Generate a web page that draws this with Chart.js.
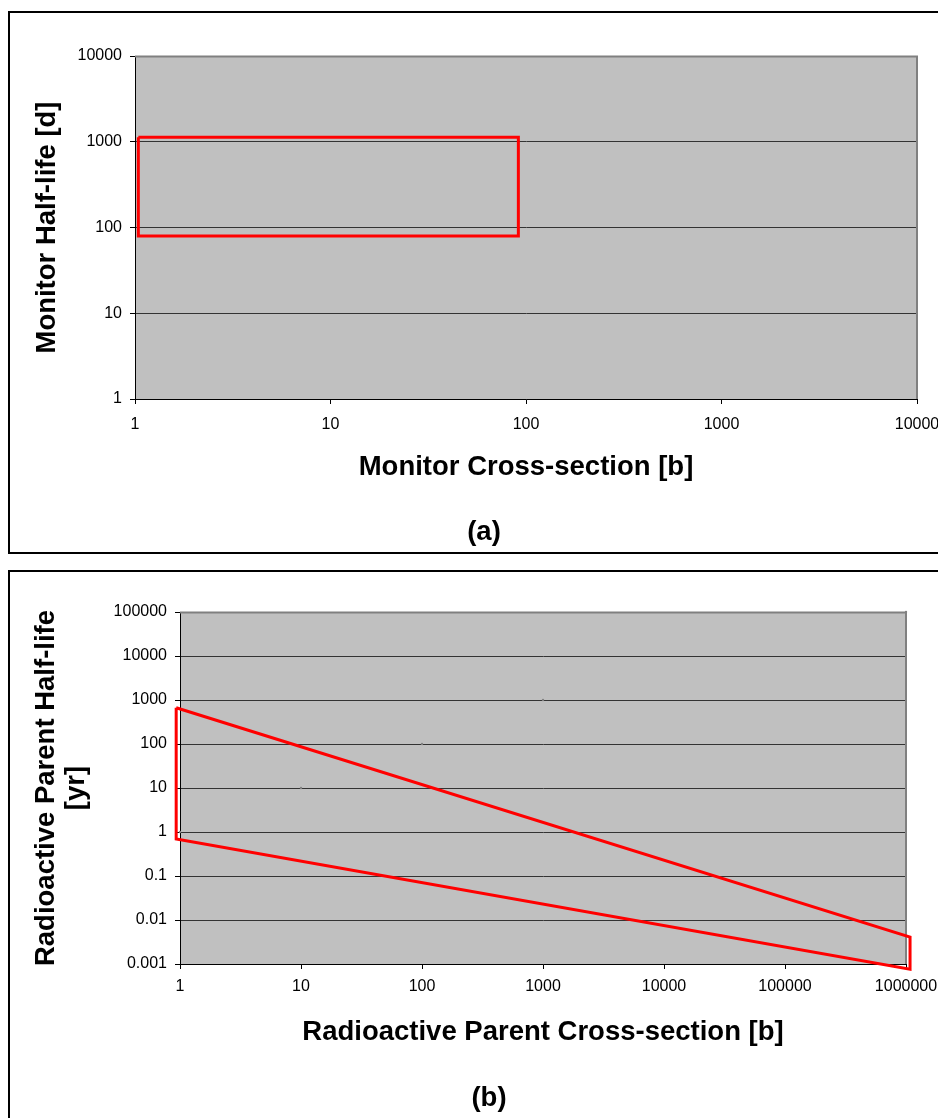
<!DOCTYPE html>
<html>
<head>
<meta charset="utf-8">
<script src="https://cdn.jsdelivr.net/npm/chart.js@4"></script>
<style>
  html, body { margin: 0; padding: 0; background: #fff; }
  body { width: 938px; height: 1118px; position: relative; overflow: hidden; font-family: "Liberation Sans", Arial, sans-serif; }
  .panel { position: absolute; left: 8px; width: 1000px; border: 2px solid #000; box-sizing: border-box; }
  canvas { position: absolute; left: 0; }
  .tag { position: absolute; font-weight: bold; font-size: 27.5px; line-height: 30px; transform: translate(-50%, -50%); }
</style>
</head>
<body>
<div class="panel" style="top:11px;height:543px"></div>
<div class="panel" style="top:570px;height:600px"></div>
<canvas id="chartA" width="938" height="553" style="top:0"></canvas>
<canvas id="chartB" width="938" height="547" style="top:571px"></canvas>
<div class="tag" style="left:484px;top:531px">(a)</div>
<div class="tag" style="left:489px;top:1097px">(b)</div>
<script>
// panel (a): monitor
const monitorXTicks = [1, 10, 100, 1000, 10000];
const monitorYTicks = [1, 10, 100, 1000, 10000];
const monitorX = [1.04, 91.4, 91.4, 1.04, 1.04];
const monitorY = [1127, 1127, 79.6, 79.6, 1127];

// panel (b): radioactive parent
const parentXTicks = [1, 10, 100, 1000, 10000, 100000, 1000000];
const parentYTicks = [0.001, 0.01, 0.1, 1, 10, 100, 1000, 10000, 100000];
const parentX = [0.93, 1.08e6, 1.08e6, 0.93, 0.93];
const parentY = [668, 0.0041, 0.00076, 0.69, 668];
const dotsX = [1, 10, 100, 1000, 1000000];
const dotsY = [1, 10, 100, 1000, 100000];

const FONT = '"Liberation Sans", Arial, sans-serif';
const PLOT_BG = '#C0C0C0';

const plotArea = {
  id: 'plotArea',
  beforeDraw(chart) {
    const { ctx, chartArea: a } = chart;
    ctx.save();
    ctx.fillStyle = PLOT_BG;
    ctx.fillRect(a.left, a.top, a.right - a.left, a.bottom - a.top);
    ctx.restore();
  },
  beforeDatasetsDraw(chart) {
    const { ctx, chartArea: a } = chart;
    ctx.save();
    ctx.strokeStyle = '#808080';
    ctx.lineWidth = 2;
    ctx.beginPath();
    ctx.moveTo(a.left, a.top + 0.5);
    ctx.lineTo(a.right, a.top + 0.5);
    ctx.lineTo(a.right, a.bottom);
    ctx.stroke();
    ctx.restore();
  }
};

const toPts = (xs, ys) => xs.map((x, i) => ({ x, y: ys[i] }));
const noPad = s => { s.paddingLeft = 0; s.paddingRight = 0; s.paddingTop = 0; s.paddingBottom = 0; };

function makeChart(id, cfg) {
  const tickFont = { family: FONT, size: 16 };
  const titleFont = { family: FONT, size: 27.5, weight: 'bold', lineHeight: 1.1 };
  return new Chart(document.getElementById(id), {
    type: 'scatter',
    data: { datasets: cfg.datasets },
    plugins: [plotArea],
    options: {
      responsive: false,
      animation: false,
      events: [],
      layout: { padding: { left: 0, top: cfg.top, right: 938 - cfg.right, bottom: 0 } },
      plugins: { legend: { display: false }, tooltip: { enabled: false } },
      scales: {
        x: {
          type: 'logarithmic',
          min: cfg.xTicks[0],
          max: cfg.xTicks[cfg.xTicks.length - 1],
          afterBuildTicks: s => { s.ticks = cfg.xTicks.map(v => ({ value: v })) },
          afterFit: s => { s.height = cfg.xAxisH; noPad(s); },
          grid: { drawOnChartArea: false, color: '#000', tickLength: 5 },
          border: { color: '#000', width: 1 },
          ticks: { color: '#000', font: tickFont, padding: cfg.xTickPad, maxRotation: 0, autoSkip: false, callback: v => String(v) },
          title: { display: true, text: cfg.xTitle, color: '#000', font: titleFont, padding: { bottom: cfg.xTitlePad } }
        },
        y: {
          type: 'logarithmic',
          min: cfg.yTicks[0],
          max: cfg.yTicks[cfg.yTicks.length - 1],
          afterBuildTicks: s => { s.ticks = cfg.yTicks.map(v => ({ value: v })) },
          afterFit: s => { s.width = cfg.yAxisW; noPad(s); },
          grid: { color: '#333', tickColor: '#000', tickLength: 5 },
          border: { color: '#000', width: 1 },
          ticks: { color: '#000', font: tickFont, padding: 8, autoSkip: false, callback: v => String(v) },
          title: { display: true, text: cfg.yTitle, color: '#000', font: titleFont, padding: { top: cfg.yTitlePad } }
        }
      }
    }
  });
}

makeChart('chartA', {
  top: 56, right: 917, yAxisW: 135, xAxisH: 154, xTickPad: 11,
  xTicks: monitorXTicks, yTicks: monitorYTicks,
  xTitle: 'Monitor Cross-section [b]', xTitlePad: 70,
  yTitle: 'Monitor Half-life [d]', yTitlePad: 32,
  datasets: [{
    data: toPts(monitorX, monitorY),
    showLine: true, borderColor: '#FF0000', borderWidth: 3,
    pointRadius: 0, tension: 0, clip: false
  }]
});

makeChart('chartB', {
  top: 41, right: 906, yAxisW: 180, xAxisH: 154, xTickPad: 8,
  xTicks: parentXTicks, yTicks: parentYTicks,
  xTitle: 'Radioactive Parent Cross-section [b]', xTitlePad: 70,
  yTitle: ['Radioactive Parent Half-life', '[yr]'], yTitlePad: 31,
  datasets: [{
    data: toPts(dotsX, dotsY),
    pointRadius: 1.2, pointBackgroundColor: '#808080', pointBorderWidth: 0,
    showLine: false, clip: false
  }, {
    data: toPts(parentX, parentY),
    showLine: true, borderColor: '#FF0000', borderWidth: 3,
    pointRadius: 0, tension: 0, clip: false
  }]
});
</script>
</body>
</html>
